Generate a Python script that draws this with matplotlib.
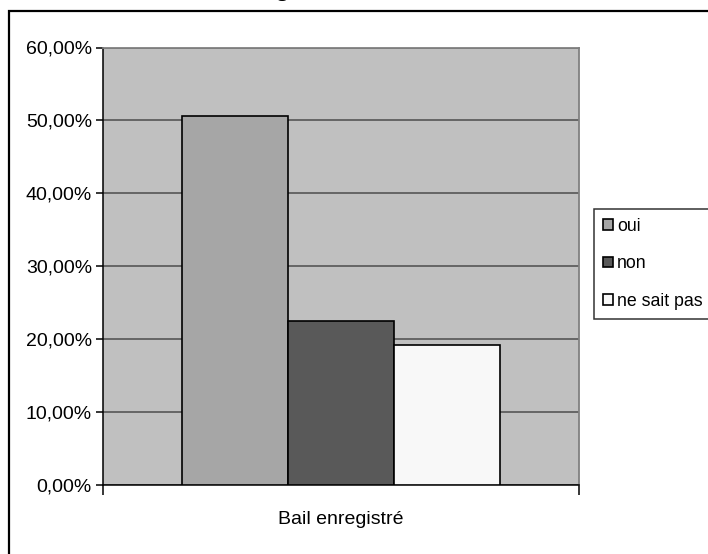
import numpy as np
import matplotlib
matplotlib.use("Agg")
import matplotlib.pyplot as plt
from matplotlib.patches import Rectangle
from matplotlib.ticker import FuncFormatter

# donnees
categorie = "Bail enregistré"
reponses = ["oui", "non", "ne sait pas"]
valeurs = [50.65, 22.5, 19.25]
couleurs = ["#a6a6a6", "#595959", "#f8f8f8"]
ticks_y = [0, 10, 20, 30, 40, 50, 60]

plt.rcParams['font.family'] = ['Liberation Sans', 'DejaVu Sans']

W, H = 708, 554
fig = plt.figure(figsize=(W / 100, H / 100), dpi=100)
fig.patch.set_facecolor("white")

# cadre du graphique (coupe par le bord de l'image)
fig.patches.append(Rectangle((9 / W, -0.1), 1.2, (H - 11) / H + 0.1, transform=fig.transFigure,
                             fill=False, edgecolor="black", linewidth=1.6, clip_on=False))

# titre coupe en haut
fig.text(262 / W, 1 + 4 / H, categorie, ha="center", va="baseline", fontsize=15,
         fontweight="bold", family=["Liberation Serif"])

ax = fig.add_axes([103 / W, 69 / H, 476 / W, 437.5 / H])
ax.set_facecolor("#c0c0c0")

largeur = 106 / 476
for i, (rep, val, col) in enumerate(zip(reponses, valeurs, couleurs)):
    ax.bar((i - 1) * largeur, val, width=largeur, color=col, edgecolor="black",
           linewidth=1.2, label=rep, zorder=3)

ax.set_xlim(-0.5, 0.5)
ax.set_ylim(0, 60)
ax.set_yticks(ticks_y)
ax.yaxis.set_major_formatter(FuncFormatter(lambda v, p: f"{v:.2f}%".replace(".", ",")))
ax.grid(axis="y", color="#4d4d4d", linewidth=1.1, zorder=1)
ax.set_axisbelow(True)

ax.set_xticks([-0.5, 0.5])
ax.set_xticklabels([])
ax.tick_params(axis="x", length=7, width=1.1, direction="out")
ax.tick_params(axis="y", length=5, width=1.1, direction="out", labelsize=14, pad=3)
ax.text(0.5, -0.08, categorie, transform=ax.transAxes, ha="center", va="center", fontsize=14)

for s in ["top", "right"]:
    ax.spines[s].set_color("#808080")
    ax.spines[s].set_linewidth(1.3)
for s in ["left", "bottom"]:
    ax.spines[s].set_color("black")
    ax.spines[s].set_linewidth(1.1)

leg = fig.legend(loc="upper left", bbox_to_anchor=(594 / W, 1 - 209 / H), fontsize=12.8,
                 handlelength=0.55, handleheight=0.55, handletextpad=0.25,
                 labelspacing=1.15, borderpad=0.5, borderaxespad=0,
                 frameon=True, fancybox=False, edgecolor="black")
leg.get_frame().set_linewidth(1.1)

fig.savefig("out.png", dpi=100)
